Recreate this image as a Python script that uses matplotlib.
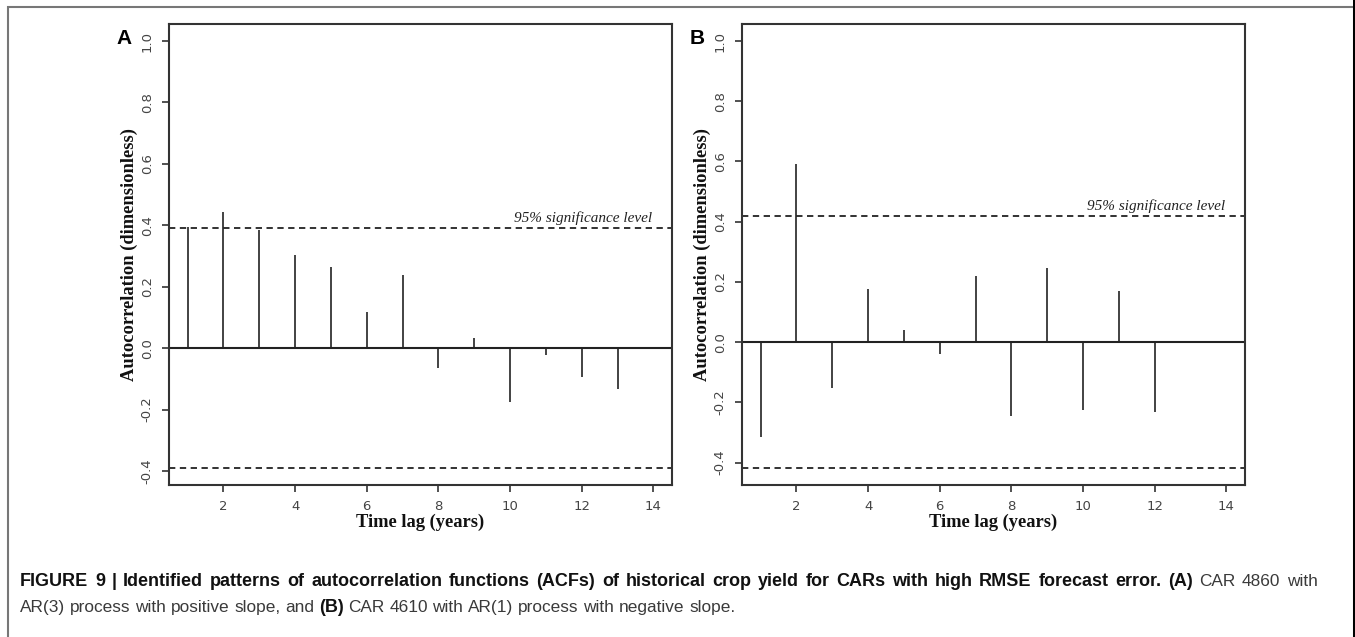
import numpy as np
import matplotlib
matplotlib.use("Agg")
import matplotlib.pyplot as plt
from matplotlib.patches import Rectangle

# Data
lags_a = [1, 2, 3, 4, 5, 6, 7, 8, 9, 10, 11, 12, 13]
acf_a = [0.395, 0.445, 0.385, 0.303, 0.265, 0.117, 0.239, -0.064, 0.034,
         -0.175, -0.023, -0.095, -0.132]
sig_a = 0.39

lags_b = [1, 2, 3, 4, 5, 6, 7, 8, 9, 10, 11, 12]
acf_b = [-0.314, 0.592, -0.153, 0.176, 0.039, -0.041, 0.221, -0.247, 0.245,
         -0.225, 0.170, -0.233]
sig_b = 0.418

x_ticks = [2, 4, 6, 8, 10, 12, 14]
y_ticks = [-0.4, -0.2, 0.0, 0.2, 0.4, 0.6, 0.8, 1.0]
panel_labels = ["A", "B"]

W, H = 1355, 637
fig = plt.figure(figsize=(W / 100, H / 100), dpi=100)
fig.patch.set_facecolor("white")

# outer frame
fig.patches.append(Rectangle((8 / W, -0.05), (W - 9) / W, 1 - 7 / H + 0.05,
                             transform=fig.transFigure, fill=False,
                             edgecolor="#777777", lw=1.5))
fig.patches.append(Rectangle((1353.5 / W, -0.05), 0, 1.1,
                             transform=fig.transFigure, fill=False,
                             edgecolor="black", lw=2))

serif = "Liberation Serif"
sans = "Liberation Sans"


def acf_panel(rect, lags, acf, sig, letter):
    ax = fig.add_axes(rect)
    ax.vlines(lags, 0, acf, color="#222222", lw=1.2)
    ax.axhline(0, color="#222222", lw=1.5)
    ax.axhline(sig, color="#222222", lw=1.3, ls=(0, (3.5, 2.5)))
    ax.axhline(-sig, color="#222222", lw=1.3, ls=(0, (3.5, 2.5)))
    lo = -sig
    hi = 1.0
    pad = (hi - lo) * 0.04
    ax.set_ylim(lo - pad, hi + pad)
    ax.set_xlim(1 - 13 * 0.04, 14 + 13 * 0.04)
    ax.set_xticks(x_ticks)
    ax.set_yticks(y_ticks)
    ax.set_yticklabels([f"{v:.1f}" for v in y_ticks], rotation=90, va="center")
    ax.tick_params(direction="out", length=5, width=1.2, colors="#333333",
                   labelcolor="#444444", labelsize=9.5, pad=6)
    for s in ax.spines.values():
        s.set_linewidth(1.5)
        s.set_color("#333333")
    ax.set_xlabel("Time lag (years)", fontfamily=serif, fontweight="bold",
                  fontsize=13.3, color="#111111", labelpad=0)
    ax.set_ylabel("Autocorrelation (dimensionless)", fontfamily=serif,
                  fontweight="bold", fontsize=13.3, color="#111111", labelpad=2)
    ax.text(0.96, sig + 0.012, "95% significance level", transform=ax.get_yaxis_transform(),
            ha="right", va="bottom", fontfamily=serif, style="italic",
            fontsize=11, color="#222222")
    ax.text(-0.075, 0.968, letter, transform=ax.transAxes, ha="right", va="center",
            fontfamily=sans, fontweight="bold", fontsize=15, color="black")
    return ax


ax_a = acf_panel([169 / W, 1 - 485 / H, 503 / W, 461 / H], lags_a, acf_a, sig_a,
                 panel_labels[0])
ax_b = acf_panel([742 / W, 1 - 485 / H, 503 / W, 461 / H], lags_b, acf_b, sig_b,
                 panel_labels[1])

# caption, mixing bold and regular runs
renderer = fig.canvas.get_renderer()
cap_size = 12.4
bold_size = 13.0
x0, x_end = 20, 1318


def text_width(s, bold=False):
    t = fig.text(0, 0, s, fontfamily=sans, fontsize=cap_size,
                 fontweight="bold" if bold else "normal")
    w = t.get_window_extent(renderer).width
    t.remove()
    return w


def caption_line(y, runs, justify=False):
    # split runs into words, keep their style
    words = []
    for txt, bold in runs:
        for w in txt.split(" "):
            if w:
                words.append((w, bold))
    arts = []
    for w, bold in words:
        t = fig.text(0, y, w, fontfamily=sans,
                     fontsize=bold_size if bold else cap_size,
                     fontweight="bold" if bold else "normal",
                     color="#111111" if bold else "#3a3a3a",
                     va="baseline", ha="left")
        arts.append(t)
    widths = [a.get_window_extent(renderer).width for a in arts]
    sp = text_width("a b") - text_width("ab")
    if justify:
        gap = (x_end - x0 - sum(widths)) / (len(arts) - 1)
    else:
        gap = sp
    x = x0
    for a, w in zip(arts, widths):
        a.set_x(x / W)
        x += w + gap


caption_line(1 - 586 / H, [
    ("FIGURE 9 | Identified patterns of autocorrelation functions (ACFs) of historical "
     "crop yield for CARs with high RMSE forecast error. (A)", True),
    (" CAR 4860 with", False),
], justify=True)
caption_line(1 - 612 / H, [
    ("AR(3) process with positive slope, and ", False),
    ("(B)", True),
    (" CAR 4610 with AR(1) process with negative slope.", False),
])

fig.savefig("out.png", dpi=100, facecolor="white")
